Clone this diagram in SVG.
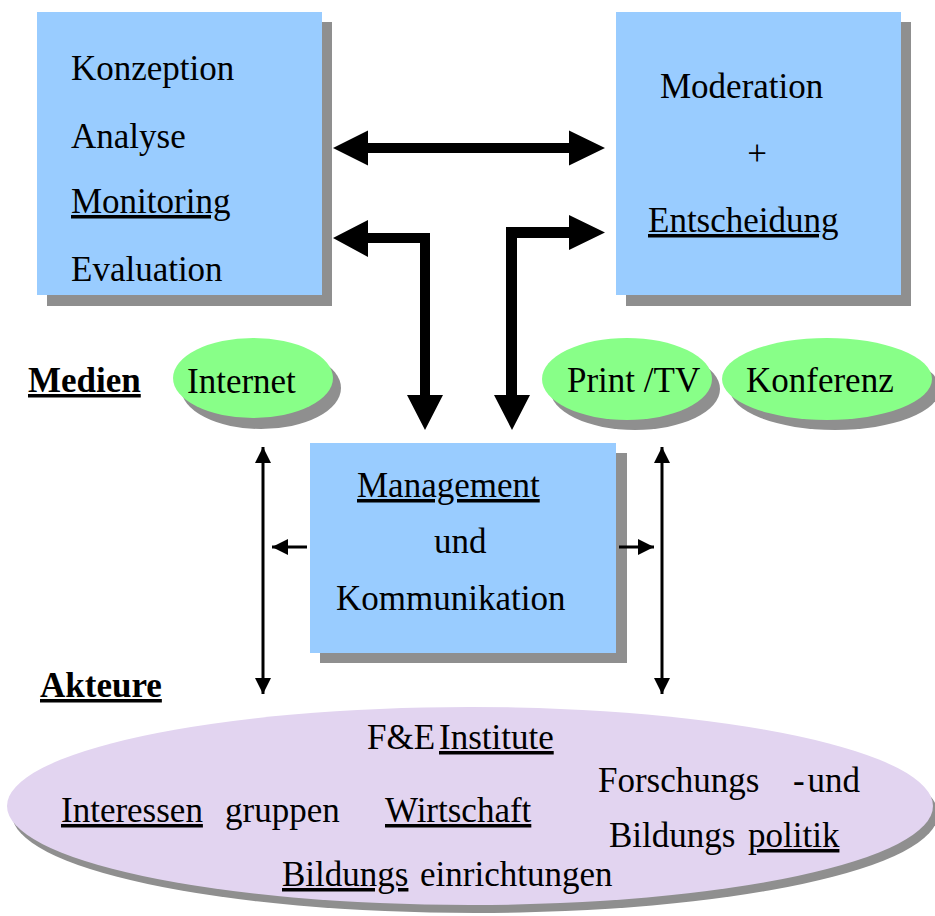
<svg xmlns="http://www.w3.org/2000/svg" width="935" height="916" viewBox="0 0 935 916">
<style>
.box{fill:#99CCFF}
.sh{fill:#8F8F8F}
.med{fill:#88FF88}
.akt{fill:#E2D4F0}
.lbl{font-family:"Liberation Serif","Times New Roman",serif;font-size:35px;fill:#000}
.hd{font-family:"Liberation Serif","Times New Roman",serif;font-size:35px;font-weight:bold;text-decoration:underline;fill:#000}
.u{text-decoration:underline}
.thin{stroke:#000;stroke-width:3;fill:none}
</style>
<defs>
<marker id="ah" markerUnits="userSpaceOnUse" markerWidth="20" markerHeight="16" refX="16" refY="8" orient="auto-start-reverse">
<path d="M0,0 L16,8 L0,16 Z" fill="#000"/>
</marker>
</defs>
<rect width="935" height="916" fill="#fff"/>

<g id="konzeption">
<rect class="sh" x="47" y="22" width="285" height="284"/>
<rect class="box" x="37" y="12" width="285" height="283"/>
<text class="lbl" x="71" y="80">Konzeption</text>
<text class="lbl" x="71" y="148">Analyse</text>
<text class="lbl u" x="71" y="213">Monitoring</text>
<text class="lbl" x="71" y="281">Evaluation</text>
</g>

<g id="moderation">
<rect class="sh" x="626" y="22" width="285" height="284"/>
<rect class="box" x="616" y="12" width="285" height="283"/>
<text class="lbl" x="660" y="98">Moderation</text>
<text class="lbl" x="757" y="165" text-anchor="middle">+</text>
<text class="lbl u" x="648" y="232">Entscheidung</text>
</g>

<g id="medien-label">
<text class="hd" x="28" y="392">Medien</text>
</g>

<g id="internet">
<ellipse class="sh" cx="261" cy="388" rx="80" ry="41"/>
<ellipse class="med" cx="253" cy="378" rx="80" ry="40"/>
<text class="lbl" x="187" y="393">Internet</text>
</g>

<g id="printtv">
<ellipse class="sh" cx="635" cy="389" rx="85" ry="41"/>
<ellipse class="med" cx="627" cy="379" rx="85" ry="41"/>
<text class="lbl" x="567" y="392">Print /TV</text>
</g>

<g id="konferenz">
<ellipse class="sh" cx="835" cy="389" rx="105" ry="41"/>
<ellipse class="med" cx="827" cy="379" rx="105" ry="41"/>
<text class="lbl" x="746" y="392">Konferenz</text>
</g>

<g id="management">
<rect class="sh" x="320" y="453" width="307" height="210"/>
<rect class="box" x="310" y="443" width="306" height="210"/>
<text class="lbl u" x="357" y="497">Management</text>
<text class="lbl" x="434" y="553">und</text>
<text class="lbl" x="336" y="610">Kommunikation</text>
</g>

<g id="akteure-label">
<text class="hd" x="40" y="697">Akteure</text>
</g>

<g id="akteure">
<ellipse class="sh" cx="475" cy="814" rx="463" ry="99"/>
<ellipse class="akt" cx="470" cy="806" rx="463" ry="99"/>
<text class="lbl" x="367" y="749">F&amp;E</text>
<text class="lbl u" x="439" y="749">Institute</text>
<text class="lbl u" x="61" y="822">Interessen</text>
<text class="lbl" x="225" y="822">gruppen</text>
<text class="lbl u" x="385" y="822">Wirtschaft</text>
<text class="lbl" x="598" y="792">Forschungs</text>
<text class="lbl" x="793" y="792" word-spacing="-6">- und</text>
<text class="lbl" x="609" y="847">Bildungs</text>
<text class="lbl u" x="748" y="847">politik</text>
<text class="lbl u" x="282" y="886">Bildungs</text>
<text class="lbl" x="420" y="886">einrichtungen</text>
</g>

<g id="connectors">
<polygon fill="#000" points="333,148 368,130.5 368,143 569,143 569,130.5 605,148 569,165.5 569,153 368,153 368,165.5"/>
<polygon fill="#000" points="333,238 368,220 368,233 430,233 430,395 443,395 425,430 407,395 420,395 420,243 368,243 368,257"/>
<polygon fill="#000" points="605,232.5 569,215 569,227 506,227 506,395 494,395 512,430 530,395 517,395 517,238 569,238 569,250"/>
<line class="thin" x1="263" y1="447" x2="263" y2="694" marker-start="url(#ah)" marker-end="url(#ah)"/>
<line class="thin" x1="662" y1="447" x2="662" y2="694" marker-start="url(#ah)" marker-end="url(#ah)"/>
<line class="thin" x1="307" y1="547" x2="272" y2="547" marker-end="url(#ah)"/>
<line class="thin" x1="619" y1="547" x2="654" y2="547" marker-end="url(#ah)"/>
</g>
</svg>
